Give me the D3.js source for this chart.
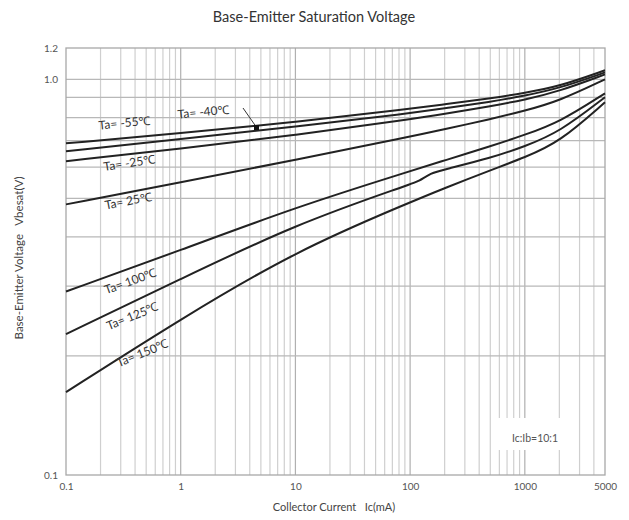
<!DOCTYPE html>
<html><head><meta charset="utf-8">
<script src="https://cdn.jsdelivr.net/npm/d3@7"></script>
<style>
body{margin:0;background:#fff;}
svg{display:block;font-family:Lato,"Open Sans",sans-serif;}
</style></head>
<body><svg id="chart" width="629" height="520"></svg>
<script>
// Collector current (mA) sample points
const currents = [0.1, 1, 10, 100, 200, 500, 1000, 2000, 5000];
const currents125 = [0.1, 1, 10, 100, 120, 150, 200, 500, 1000, 2000, 5000];
// Base-emitter saturation voltage (V) per ambient temperature
const vM55 = [0.689, 0.731, 0.779, 0.842, 0.865, 0.895, 0.924, 0.960, 1.054];
const vM40 = [0.658, 0.706, 0.759, 0.821, 0.845, 0.877, 0.909, 0.949, 1.041];
const vM25 = [0.621, 0.668, 0.722, 0.793, 0.818, 0.855, 0.888, 0.933, 1.029];
const v25  = [0.483, 0.549, 0.626, 0.716, 0.748, 0.793, 0.833, 0.882, 1.000];
const v100 = [0.291, 0.370, 0.475, 0.586, 0.624, 0.677, 0.724, 0.779, 0.922];
const v125 = [0.227, 0.313, 0.430, 0.543, 0.553, 0.579, 0.592, 0.632, 0.677, 0.735, 0.901];
const v150 = [0.162, 0.248, 0.368, 0.489, 0.531, 0.589, 0.635, 0.693, 0.875];
const seriesNames = ["Ta= -55℃","Ta= -40℃","Ta= -25℃","Ta= 25℃","Ta= 100℃","Ta= 125℃","Ta= 150℃"];
const xTickValues = [0.1, 1, 10, 100, 1000, 5000];
const xTickLabels = ["0.1", "1", "10", "100", "1000", "5000"];
const yTickValues = [0.1, 1.0, 1.2];
const yTickLabels = ["0.1", "1.0", "1.2"];
const yGridValues = [0.2, 0.3, 0.4, 0.5, 0.6, 0.7, 0.8, 0.9, 1.0];
const ratioLabel = "Ic:Ib=10:1";

const series = [
  {name: seriesNames[0], I: currents, V: vM55},
  {name: seriesNames[1], I: currents, V: vM40},
  {name: seriesNames[2], I: currents, V: vM25},
  {name: seriesNames[3], I: currents, V: v25},
  {name: seriesNames[4], I: currents, V: v100},
  {name: seriesNames[5], I: currents125, V: v125},
  {name: seriesNames[6], I: currents, V: v150}
];

const svg = d3.select("#chart");
const L = 66, R = 605, T = 48, B = 475;
const x = d3.scaleLog().domain([0.1, 5000]).range([L, R]);
const y = d3.scaleLog().domain([0.1, 1.2]).range([B, T]);

// vertical grid
const xGrid = [];
for (let d = 0.1; d < 5000; d *= 10) {
  for (let m = 1; m <= 9; m++) {
    const v = +(d * m).toPrecision(3);
    if (v > 0.1 && v < 5000) xGrid.push(v);
  }
}
svg.append("g").selectAll("line").data(xGrid).join("line")
  .attr("x1", d => x(d)).attr("x2", d => x(d))
  .attr("y1", T).attr("y2", B)
  .attr("stroke", d => [1,10,100,1000].includes(d) ? "#b0b0b0" : "#cfcfcf")
  .attr("stroke-width", 1.2);
// horizontal grid
svg.append("g").selectAll("line").data(yGridValues).join("line")
  .attr("x1", L).attr("x2", R)
  .attr("y1", d => y(d)).attr("y2", d => y(d))
  .attr("stroke", "#b8b8b8").attr("stroke-width", 1.2);
// frame
svg.append("rect").attr("x", L).attr("y", T).attr("width", R - L).attr("height", B - T)
  .attr("fill", "none").attr("stroke", "#a8a8a8").attr("stroke-width", 1.3);

// ratio label box
svg.append("rect").attr("x", 495).attr("y", 418).attr("width", 80).attr("height", 32).attr("fill", "#fff");
svg.append("text").attr("x", 535).attr("y", 442).attr("text-anchor", "middle")
  .attr("font-size", 10.5).attr("fill", "#555").text(ratioLabel);

// curves
const line = d3.line().x(d => x(d[0])).y(d => y(d[1])).curve(d3.curveBasis);
svg.append("g").selectAll("path").data(series).join("path")
  .attr("d", s => line(s.I.map((v, i) => [v, s.V[i]])))
  .attr("fill", "none").attr("stroke", "#222").attr("stroke-width", 2);

// axis tick labels
const xAxis = d3.axisBottom(x).tickValues(xTickValues).tickFormat((d, i) => xTickLabels[i]).tickSize(0).tickPadding(8);
svg.append("g").attr("transform", `translate(0,${B})`).call(xAxis)
  .call(g => g.select(".domain").remove())
  .call(g => g.selectAll("text").attr("font-size", 10).attr("fill", "#555").attr("font-family", "Lato,sans-serif"));
const yAxis = d3.axisLeft(y).tickValues(yTickValues).tickFormat((d, i) => yTickLabels[i]).tickSize(0).tickPadding(8);
svg.append("g").attr("transform", `translate(${L},0)`).call(yAxis)
  .call(g => g.select(".domain").remove())
  .call(g => g.selectAll("text").attr("font-size", 10).attr("fill", "#555").attr("font-family", "Lato,sans-serif"));

// titles
svg.append("text").attr("x", 314).attr("y", 22).attr("text-anchor", "middle")
  .attr("font-size", 14.5).attr("fill", "#333").text("Base-Emitter Saturation Voltage");
svg.append("text").attr("x", 334).attr("y", 511).attr("text-anchor", "middle")
  .attr("font-size", 11).attr("fill", "#444").attr("xml:space", "preserve").text("Collector Current   Ic(mA)");
svg.append("text").attr("transform", "translate(23,258) rotate(-90)").attr("text-anchor", "middle")
  .attr("font-size", 11.5).attr("fill", "#444").attr("xml:space", "preserve").text("Base-Emitter Voltage   Vbesat(V)");

// curve labels
const labelPos = [
  {cx: 125, cy: 127, rot: -6},
  {cx: 204, cy: 116, rot: -6},
  {cx: 130, cy: 167, rot: -9},
  {cx: 129, cy: 205, rot: -11},
  {cx: 132, cy: 285, rot: -20},
  {cx: 134, cy: 320, rot: -22},
  {cx: 144, cy: 357, rot: -22}
];
svg.append("g").selectAll("text").data(series).join("text")
  .attr("transform", (s, i) => `translate(${labelPos[i].cx},${labelPos[i].cy}) rotate(${labelPos[i].rot})`)
  .attr("text-anchor", "middle").attr("font-size", 12).attr("fill", "#333")
  .text(s => s.name);

// arrow for -40
svg.append("line").attr("x1", 243).attr("y1", 108).attr("x2", 257).attr("y2", 128)
  .attr("stroke", "#333").attr("stroke-width", 1);
svg.append("rect").attr("x", 254).attr("y", 125).attr("width", 5).attr("height", 5).attr("fill", "#111");
</script></body></html>
